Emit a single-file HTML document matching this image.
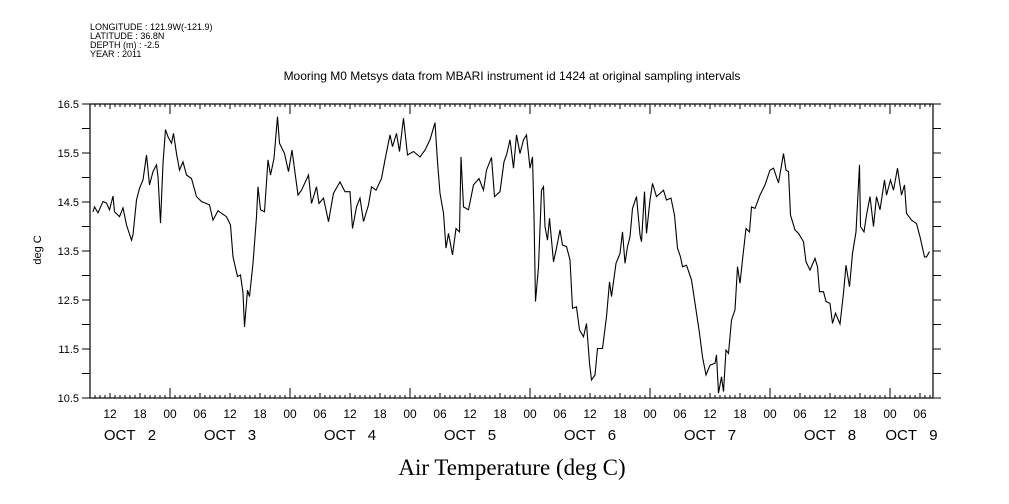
<!DOCTYPE html>
<html><head><meta charset="utf-8"><style>
body{margin:0;background:#fff;}
svg{display:block;font-family:"Liberation Sans",sans-serif;}
.day{white-space:pre;}
</style></head><body>
<svg id="chart" width="1009" height="504" viewBox="0 0 1009 504" xmlns="http://www.w3.org/2000/svg">
<rect width="1009" height="504" fill="#fff"/>
<g font-size="9" fill="#000">
<text x="90" y="30">LONGITUDE : 121.9W(-121.9)</text>
<text x="90" y="39">LATITUDE : 36.8N</text>
<text x="90" y="48">DEPTH (m) : -2.5</text>
<text x="90" y="57">YEAR : 2011</text>
</g>
<text x="512" y="80" text-anchor="middle" font-size="12">Mooring M0 Metsys data from MBARI instrument id 1424 at original sampling intervals</text>
<text transform="translate(41,250) rotate(-90)" text-anchor="middle" font-size="11">deg C</text>
<text x="512" y="475" text-anchor="middle" font-family="'Liberation Serif',serif" font-size="23">Air Temperature (deg C)</text>
<g id="axes"></g>
<g id="series"></g>
</svg>
<script>
const times=[8.6,8.9,9.6,10.6,11.3,11.9,12.6,12.9,13.9,14.6,15.3,16.3,16.6,17.3,17.9,18.6,19.3,19.9,20.6,21.3,21.6,22.1,22.6,23.1,23.6,24.3,24.7,25.3,25.9,26.6,27.3,28.3,29.3,30.3,31.9,32.6,33.6,35.3,36.1,36.6,37.5,38.1,38.6,38.9,39.5,39.9,40.6,41.3,41.6,42.1,42.9,43.6,44.1,44.8,45.5,45.9,46.9,47.7,48.4,49.6,50.3,51.7,52.3,53.3,53.8,54.7,55.7,56.7,58,59,60,60.5,61.3,62,62.7,63.7,64.3,65.2,66.3,67,68,68.5,69.3,69.9,70.7,71.5,72.7,74,75,76,77,77.5,78,78.7,79.2,79.7,80.5,81.2,81.9,82.2,82.7,83.7,84.7,85.8,86.7,87.3,88.3,88.9,90,90.8,91.3,92,92.7,93.3,94,94.7,95.3,96,96.5,96.8,97.1,97.7,98.3,98.7,99,99.5,99.9,100.7,101.3,102,102.5,103.3,104,104.5,105.3,105.9,106.7,107.3,107.9,108.3,109,109.5,110.5,111.3,111.9,112.3,113.2,114,114.5,115,115.5,116,116.5,117.3,118,118.3,118.9,119.3,120,120.5,121.3,122.7,123.3,124.2,124.9,125.5,126.1,126.5,127.3,128.3,129.2,129.9,130.5,131.2,132,133,133.3,133.7,134.3,134.7,135.2,135.7,136.3,137,137.5,138,138.5,139.2,139.9,140.3,141,142,143,144,144.7,145.7,146.7,147.2,147.7,148.1,149,149.7,150.7,151.2,152,153,153.5,153.9,154.7,155.2,156,156.5,157.1,158,158.7,159.2,159.9,160.5,161.2,161.9,162.1,162.8,163.3,164,164.7,165.3,166,166.9,167.3,168.1,168.7,169.5,170.3,170.9,171.3,172.3,173.3,174,174.9,175.3,175.9];
const temps=[14.30,14.40,14.28,14.51,14.48,14.34,14.62,14.30,14.20,14.38,14.03,13.72,13.83,14.54,14.78,14.95,15.46,14.85,15.12,15.26,15.02,14.07,15.29,15.98,15.83,15.70,15.90,15.49,15.15,15.32,15.05,14.98,14.61,14.51,14.44,14.13,14.32,14.20,14.03,13.38,12.98,13.01,12.64,11.95,12.70,12.57,13.25,14.20,14.81,14.34,14.30,15.36,15.05,15.39,16.24,15.70,15.49,15.12,15.56,14.64,14.74,15.05,14.47,14.81,14.47,14.58,14.10,14.68,14.91,14.71,14.71,13.96,14.40,14.58,14.10,14.44,14.81,14.74,14.98,15.36,15.87,15.63,15.90,15.53,16.21,15.46,15.53,15.42,15.56,15.77,16.12,15.32,14.68,14.27,13.56,13.86,13.42,13.96,13.89,15.42,14.40,14.34,14.85,14.98,14.74,15.15,15.41,14.61,14.71,15.32,15.46,15.77,15.19,15.87,15.49,15.77,15.87,15.19,15.42,14.20,12.47,13.18,14.74,14.81,14.00,13.72,14.17,13.28,13.56,13.93,13.62,13.59,13.32,12.33,12.36,11.89,11.75,12.02,11.21,10.87,10.97,11.51,11.51,12.16,12.87,12.57,13.25,13.45,13.89,13.25,13.59,13.79,14.37,14.61,13.83,13.69,14.71,13.86,14.54,14.88,14.61,14.74,14.54,14.58,14.23,13.56,13.38,13.18,13.21,12.91,12.30,11.82,11.34,10.97,11.17,11.21,11.38,10.60,10.93,10.63,11.48,11.41,12.09,12.30,13.18,12.84,13.32,13.96,13.89,14.40,14.37,14.64,14.85,15.15,15.19,14.89,15.49,15.15,15.12,14.23,13.93,13.86,13.69,13.28,13.11,13.35,13.18,12.67,12.67,12.47,12.43,12.02,12.23,12.01,12.64,13.21,12.77,13.45,13.89,15.26,14.00,13.89,14.23,14.61,14.00,14.61,14.34,14.95,14.64,14.95,14.74,15.19,14.64,14.85,14.27,14.13,14.06,13.79,13.38,13.38,13.49];
const yTickLabels=["10.5","11.5","12.5","13.5","14.5","15.5","16.5"];
const dayLabels=["OCT   2","OCT   3","OCT   4","OCT   5","OCT   6","OCT   7","OCT   8","OCT   9"];
const T0=8,T1=176.6,V0=10.5,V1=16.5;
const L=90,R=933,TOP=104,BOT=398;
function xS(t){return L+(t-T0)*(R-L)/(T1-T0);}
function yS(v){return BOT-(v-V0)*(BOT-TOP)/(V1-V0);}
const NS="http://www.w3.org/2000/svg";
function mk(tag,attrs,parent){const e=document.createElementNS(NS,tag);for(const k in attrs)e.setAttribute(k,attrs[k]);parent.appendChild(e);return e;}
const ax=document.getElementById('axes');
const frame=mk('rect',{x:L,y:TOP,width:R-L,height:BOT-TOP,fill:'none',stroke:'#000','stroke-width':1.2},ax);


for(let t=Math.ceil(T0);t<=T1;t++){
  const x=xS(t);const len=(t%24===0)?10:(t%6===0?5:3);
  const a=mk('line',{x1:x,x2:x,y1:BOT,y2:BOT-len,stroke:'#000','stroke-width':1},ax);
  
  
  const b=mk('line',{x1:x,x2:x,y1:TOP,y2:TOP+len,stroke:'#000','stroke-width':1},ax);
  
  
  if(t%6===0){
    const h=t%24;
    const lb=mk('text',{x:x,y:418,'text-anchor':'middle','font-size':12},ax);
    lb.textContent=(h<10?'0':'')+h;
    
    
  }
}
dayLabels.forEach((d,i)=>{
  const s=Math.max(T0,i*24),e=Math.min(T1,(i+1)*24);
  const lb=mk('text',{x:xS((s+e)/2),y:440,'text-anchor':'middle','font-size':15,'class':'day'},ax);
  lb.textContent=d;
  
  
});
for(let v=V0;v<=V1+1e-6;v+=0.5){
  const y=yS(v);
  const a=mk('line',{x1:L-8,x2:L,y1:y,y2:y,stroke:'#000','stroke-width':1},ax);
  
  
  const b=mk('line',{x1:R,x2:R+8,y1:y,y2:y,stroke:'#000','stroke-width':1},ax);
  
  
}
yTickLabels.forEach(s=>{
  const lb=mk('text',{x:L-11,y:yS(parseFloat(s))+4,'text-anchor':'end','font-size':11},ax);
  lb.textContent=s;
  
  
});
const pts=times.map((t,i)=>xS(t).toFixed(1)+','+yS(temps[i]).toFixed(1)).join(' ');
const line=mk('polyline',{points:pts,fill:'none',stroke:'#000','stroke-width':1.1},document.getElementById('series'));


</script>
</body></html>
